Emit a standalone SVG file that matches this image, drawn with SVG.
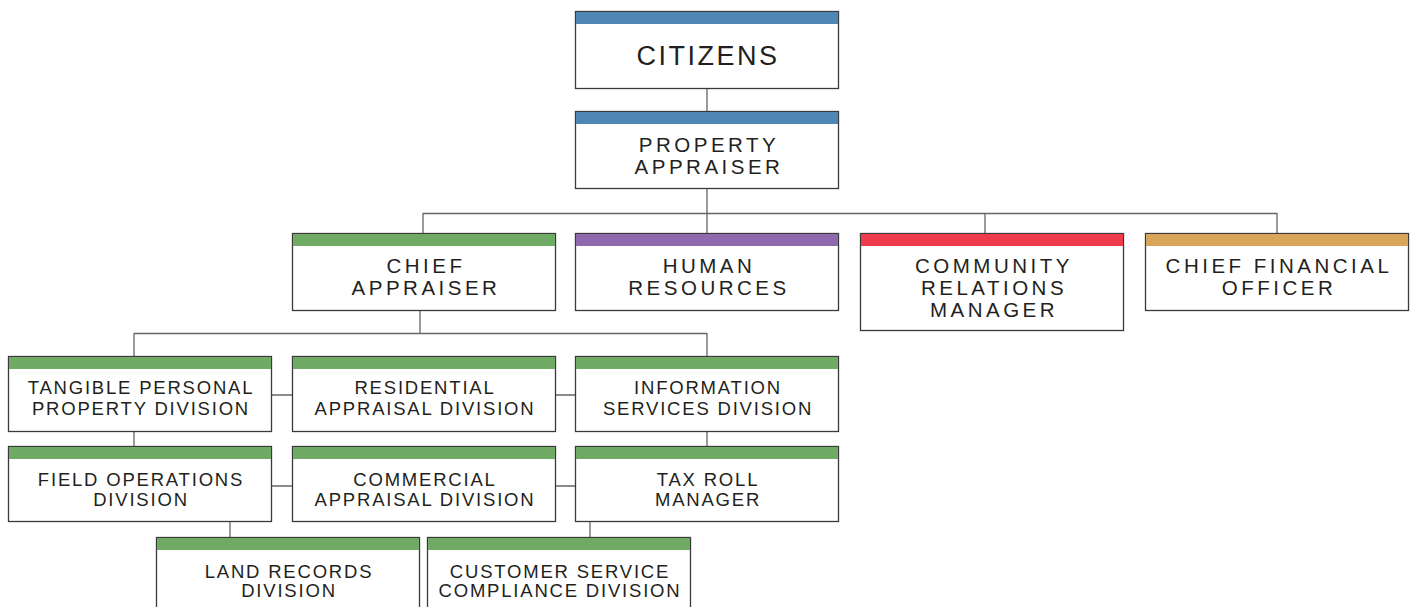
<svg xmlns="http://www.w3.org/2000/svg" width="1414" height="607" viewBox="0 0 1414 607">
<style>
.box{fill:#ffffff;stroke:#3a3a3a;stroke-width:1.3}
.blue{fill:#4e87b5}.green{fill:#6fab64}.purple{fill:#8e69ac}.red{fill:#ef3a4c}.gold{fill:#d8a55a}
text{font-family:"Liberation Sans","Open Sans",sans-serif;fill:#231f20;text-anchor:middle}
.t1{font-size:27px;letter-spacing:2.5px}
.t2{font-size:20.5px;letter-spacing:3.5px}
.t3{font-size:18.5px;letter-spacing:1.8px}
.con{fill:none;stroke:#666666;stroke-width:1.3}
</style>
<rect width="1414" height="607" fill="#ffffff"/>
<g id="connectors" class="con">
<path d="M707 88V111M707 188V233M423 213.5H1277M423 213V233M985 213V233M1277 213V233"/>
<path d="M420 310V333.5M134 333.5H707M134 333V356M707 333V356"/>
<path d="M271 395H292M555 395H575M134 431V446M707 431V446"/>
<path d="M271 486H292M555 486H575M230 521V537M590 521V537"/>
</g>
<g id="citizens"><rect class="box" x="575.5" y="11.5" width="263" height="77"/><rect class="blue" x="576" y="12" width="262" height="12"/><text class="t1" x="708" y="65">CITIZENS</text></g>
<g id="property-appraiser"><rect class="box" x="575.5" y="111.5" width="263" height="77"/><rect class="blue" x="576" y="112" width="262" height="12"/><text class="t2" x="709" y="152">PROPERTY</text><text class="t2" x="709" y="174">APPRAISER</text></g>
<g id="chief-appraiser"><rect class="box" x="292.5" y="233.5" width="263" height="77"/><rect class="green" x="293" y="234" width="262" height="12"/><text class="t2" x="426" y="273">CHIEF</text><text class="t2" x="426" y="295">APPRAISER</text></g>
<g id="human-resources"><rect class="box" x="575.5" y="233.5" width="263" height="77"/><rect class="purple" x="576" y="234" width="262" height="12"/><text class="t2" x="709" y="273">HUMAN</text><text class="t2" x="709" y="295">RESOURCES</text></g>
<g id="community-relations"><rect class="box" x="860.5" y="233.5" width="263" height="97"/><rect class="red" x="861" y="234" width="262" height="12"/><text class="t2" x="994" y="273">COMMUNITY</text><text class="t2" x="994" y="295">RELATIONS</text><text class="t2" x="994" y="317">MANAGER</text></g>
<g id="cfo"><rect class="box" x="1145.5" y="233.5" width="263" height="77"/><rect class="gold" x="1146" y="234" width="262" height="12"/><text class="t2" x="1279" y="273">CHIEF FINANCIAL</text><text class="t2" x="1279" y="295">OFFICER</text></g>
<g id="tangible"><rect class="box" x="8.5" y="356.5" width="263" height="75"/><rect class="green" x="9" y="357" width="262" height="12"/><text class="t3" x="141" y="394">TANGIBLE PERSONAL</text><text class="t3" x="141" y="415">PROPERTY DIVISION</text></g>
<g id="residential"><rect class="box" x="292.5" y="356.5" width="263" height="75"/><rect class="green" x="293" y="357" width="262" height="12"/><text class="t3" x="425" y="394">RESIDENTIAL</text><text class="t3" x="425" y="415">APPRAISAL DIVISION</text></g>
<g id="information"><rect class="box" x="575.5" y="356.5" width="263" height="75"/><rect class="green" x="576" y="357" width="262" height="12"/><text class="t3" x="708" y="394">INFORMATION</text><text class="t3" x="708" y="415">SERVICES DIVISION</text></g>
<g id="field-operations"><rect class="box" x="8.5" y="446.5" width="263" height="75"/><rect class="green" x="9" y="447" width="262" height="12"/><text class="t3" x="141" y="486">FIELD OPERATIONS</text><text class="t3" x="141" y="506">DIVISION</text></g>
<g id="commercial"><rect class="box" x="292.5" y="446.5" width="263" height="75"/><rect class="green" x="293" y="447" width="262" height="12"/><text class="t3" x="425" y="486">COMMERCIAL</text><text class="t3" x="425" y="506">APPRAISAL DIVISION</text></g>
<g id="tax-roll"><rect class="box" x="575.5" y="446.5" width="263" height="75"/><rect class="green" x="576" y="447" width="262" height="12"/><text class="t3" x="708" y="486">TAX ROLL</text><text class="t3" x="708" y="506">MANAGER</text></g>
<g id="land-records"><rect class="box" x="156.5" y="537.5" width="263" height="80"/><rect class="green" x="157" y="538" width="262" height="12"/><text class="t3" x="289" y="578">LAND RECORDS</text><text class="t3" x="289" y="597">DIVISION</text></g>
<g id="customer-service"><rect class="box" x="427.5" y="537.5" width="263" height="80"/><rect class="green" x="428" y="538" width="262" height="12"/><text class="t3" x="560" y="578">CUSTOMER SERVICE</text><text class="t3" x="560" y="597">COMPLIANCE DIVISION</text></g>
</svg>
